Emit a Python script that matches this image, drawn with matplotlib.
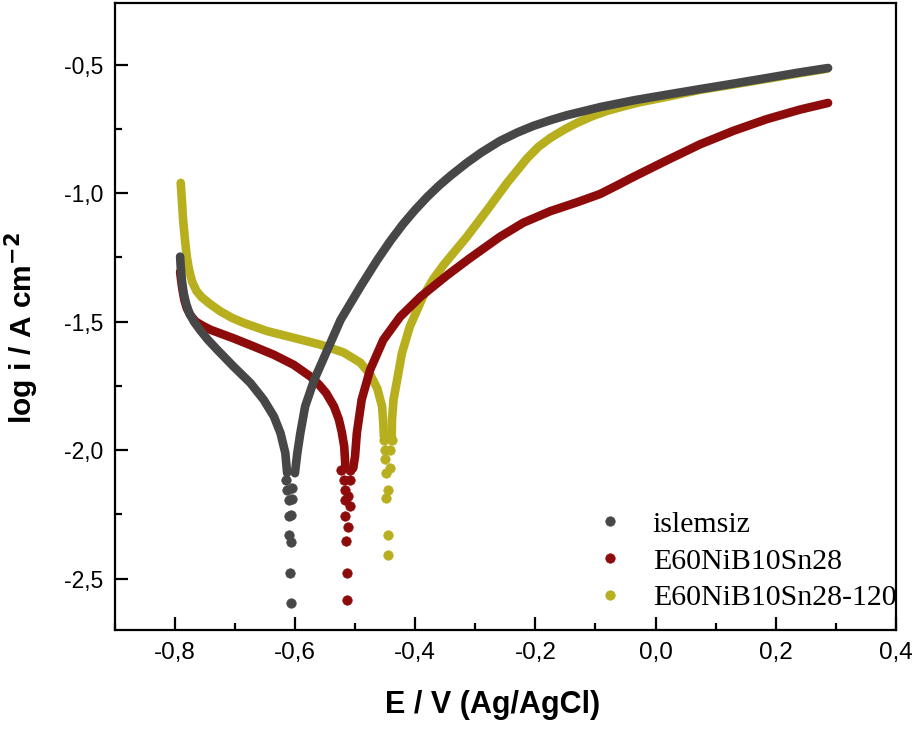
import matplotlib
matplotlib.use("Agg")
import matplotlib.pyplot as plt
from matplotlib import font_manager
from matplotlib.ticker import MultipleLocator, FuncFormatter

# ---------------- data ----------------
series_names = ["islemsiz", "E60NiB10Sn28", "E60NiB10Sn28-120"]

# islemsiz
gray_cath_E = [-0.791, -0.790, -0.788, -0.785, -0.781, -0.776, -0.768, -0.758, -0.745, -0.729,
               -0.702, -0.674, -0.652, -0.635, -0.624, -0.616, -0.613]
gray_cath_logi = [-1.247, -1.287, -1.340, -1.390, -1.430, -1.465, -1.500, -1.532, -1.570, -1.610,
                  -1.675, -1.739, -1.804, -1.869, -1.934, -2.011, -2.089]
gray_cusp_E = [-0.6155, -0.6044, -0.6128, -0.6044, -0.6100, -0.606, -0.610, -0.610, -0.606, -0.608, -0.607]
gray_cusp_logi = [-2.116, -2.147, -2.154, -2.190, -2.193, -2.251, -2.258, -2.329, -2.359, -2.478, -2.594]
gray_anod_E = [-0.600, -0.596, -0.591, -0.583, -0.568, -0.546, -0.524, -0.491, -0.463, -0.441,
               -0.420, -0.400, -0.380, -0.360, -0.340, -0.314, -0.290, -0.259, -0.230, -0.203,
               -0.175, -0.148, -0.092, -0.037, 0.018, 0.074, 0.129, 0.185, 0.240, 0.287]
gray_anod_logi = [-2.090, -2.011, -1.934, -1.830, -1.727, -1.610, -1.493, -1.364, -1.260, -1.185,
                  -1.120, -1.065, -1.015, -0.970, -0.930, -0.882, -0.842, -0.797, -0.764, -0.738,
                  -0.716, -0.697, -0.665, -0.639, -0.617, -0.595, -0.574, -0.552, -0.530, -0.513]

# E60NiB10Sn28
red_cath_E = [-0.791, -0.789, -0.787, -0.784, -0.780, -0.774, -0.765, -0.752, -0.740, -0.702,
              -0.668, -0.635, -0.602, -0.574, -0.560, -0.548, -0.535, -0.527, -0.522, -0.518, -0.516]
red_cath_logi = [-1.306, -1.345, -1.377, -1.415, -1.447, -1.475, -1.500, -1.518, -1.532, -1.565,
                 -1.597, -1.629, -1.668, -1.714, -1.745, -1.778, -1.830, -1.880, -1.930, -1.986, -2.063]
red_cusp_E = [-0.523, -0.509, -0.519, -0.509, -0.517, -0.511, -0.517, -0.509, -0.517, -0.512, -0.515, -0.513, -0.513]
red_cusp_logi = [-2.076, -2.076, -2.115, -2.115, -2.154, -2.180, -2.193, -2.219, -2.258, -2.299, -2.355, -2.480, -2.584]
red_anod_E = [-0.503, -0.500, -0.497, -0.489, -0.475, -0.453, -0.425, -0.391, -0.347, -0.310,
              -0.259, -0.220, -0.175, -0.130, -0.092, -0.060, -0.037, 0.019, 0.074, 0.130,
              0.185, 0.240, 0.287]
red_anod_logi = [-2.070, -2.025, -1.934, -1.804, -1.688, -1.571, -1.481, -1.403, -1.320, -1.255,
                 -1.170, -1.115, -1.070, -1.035, -1.003, -0.965, -0.937, -0.872, -0.810, -0.757,
                 -0.712, -0.675, -0.649]

# E60NiB10Sn28-120
yel_cath_E = [-0.790, -0.788, -0.786, -0.783, -0.780, -0.776, -0.771, -0.764, -0.755, -0.742,
              -0.724, -0.705, -0.685, -0.646, -0.602, -0.557, -0.519, -0.491, -0.475, -0.463,
              -0.455, -0.453, -0.452]
yel_cath_logi = [-0.960, -1.030, -1.105, -1.180, -1.245, -1.300, -1.345, -1.380, -1.405, -1.430,
                 -1.460, -1.485, -1.505, -1.537, -1.563, -1.590, -1.620, -1.660, -1.705, -1.760,
                 -1.830, -1.895, -1.947]
yel_cusp_E = [-0.4525, -0.4385, -0.4509, -0.4417, -0.450, -0.4417, -0.4489, -0.445, -0.448, -0.445, -0.445]
yel_cusp_logi = [-1.960, -1.960, -2.001, -1.999, -2.035, -2.070, -2.089, -2.154, -2.186, -2.329, -2.410]
yel_anod_E = [-0.439, -0.4385, -0.436, -0.430, -0.422, -0.409, -0.387, -0.370, -0.353, -0.330,
              -0.314, -0.280, -0.247, -0.214, -0.195, -0.175, -0.150, -0.131, -0.105, -0.081,
              -0.050, -0.026, 0.019, 0.074, 0.129, 0.185, 0.240, 0.285]
yel_anod_logi = [-1.960, -1.882, -1.804, -1.727, -1.623, -1.520, -1.403, -1.335, -1.280, -1.215,
                 -1.170, -1.065, -0.960, -0.865, -0.820, -0.785, -0.750, -0.727, -0.700, -0.680,
                 -0.660, -0.646, -0.625, -0.598, -0.577, -0.555, -0.533, -0.516]

x_ticks = [-0.8, -0.6, -0.4, -0.2, 0.0, 0.2, 0.4]
y_ticks = [-2.5, -2.0, -1.5, -1.0, -0.5]

colors = ["#474747", "#8E0B0B", "#B7AF1E"]

# ---------------- fonts ----------------
avail = {f.name for f in font_manager.fontManager.ttflist}
narrow_ok = "Liberation Sans Narrow" in avail

plt.rcParams["font.family"] = ["Liberation Sans", "DejaVu Sans"]

fig = plt.figure(figsize=(9.18, 7.29), dpi=100)
ax = fig.add_axes([114.6 / 918, 99 / 729, (896 - 114.6) / 918, 627 / 729])

series = [
    (gray_cath_E, gray_cath_logi, gray_cusp_E, gray_cusp_logi, gray_anod_E, gray_anod_logi),
    (red_cath_E, red_cath_logi, red_cusp_E, red_cusp_logi, red_anod_E, red_anod_logi),
    (yel_cath_E, yel_cath_logi, yel_cusp_E, yel_cusp_logi, yel_anod_E, yel_anod_logi),
]
zorders = [5, 4, 3]
handles = []
for (cE, cL, pE, pL, aE, aL), col, name, z in zip(series, colors, series_names, zorders):
    ax.plot(cE, cL, color=col, lw=6.2, solid_capstyle="round", solid_joinstyle="round", zorder=z)
    ax.plot(aE, aL, color=col, lw=6.2, solid_capstyle="round", solid_joinstyle="round", zorder=z)
    h, = ax.plot(pE, pL, ls="none", marker="o", ms=6.8, mfc=col, mec=col, mew=0.5, zorder=z,
                 label=name)
    handles.append(h)

ax.set_xlim(-0.9, 0.4)
ax.set_ylim(-2.7, -0.26)

def fmt(v, pos):
    s = f"{v:.1f}"
    if s == "-0.0":
        s = "0.0"
    return s.replace(".", ",")

ax.xaxis.set_minor_locator(MultipleLocator(0.1))
ax.yaxis.set_minor_locator(MultipleLocator(0.25))
ax.set_xticks(x_ticks)
ax.set_yticks(y_ticks)
ax.xaxis.set_major_formatter(FuncFormatter(fmt))
ax.yaxis.set_major_formatter(FuncFormatter(fmt))

ax.tick_params(which="both", direction="in", top=False, right=False, width=1.6)
ax.tick_params(which="major", length=9.5)
ax.tick_params(which="minor", length=5)
ax.tick_params(axis="y", which="major", labelsize=16.5, pad=8)
ax.tick_params(axis="x", which="major", labelsize=17.5, pad=9)
if narrow_ok:
    for t in ax.get_xticklabels():
        t.set_family("Liberation Sans Narrow")

for sp in ax.spines.values():
    sp.set_linewidth(1.6)

ax.set_xlabel("E / V (Ag/AgCl)", fontsize=22, fontweight="bold")
ax.xaxis.set_label_coords((493 - 114.6) / 781.4, (630 - 690) / 627)
ax.set_ylabel("log i / A cm$^{\\mathbf{-2}}$", fontsize=21.5, fontweight="bold")
ax.yaxis.set_label_coords((41 - 114.6) / 781.4, (630 - 328) / 627)

leg = ax.legend(handles=handles, loc="upper left",
                bbox_to_anchor=((596 - 114.6) / 781.4, (630 - 511) / 627),
                frameon=False, borderpad=0, borderaxespad=0, handlelength=0.95,
                handletextpad=0.95, labelspacing=0.33, markerscale=1.0,
                prop={"family": "Liberation Serif", "size": 21.5})

fig.savefig("out.png", dpi=100)
